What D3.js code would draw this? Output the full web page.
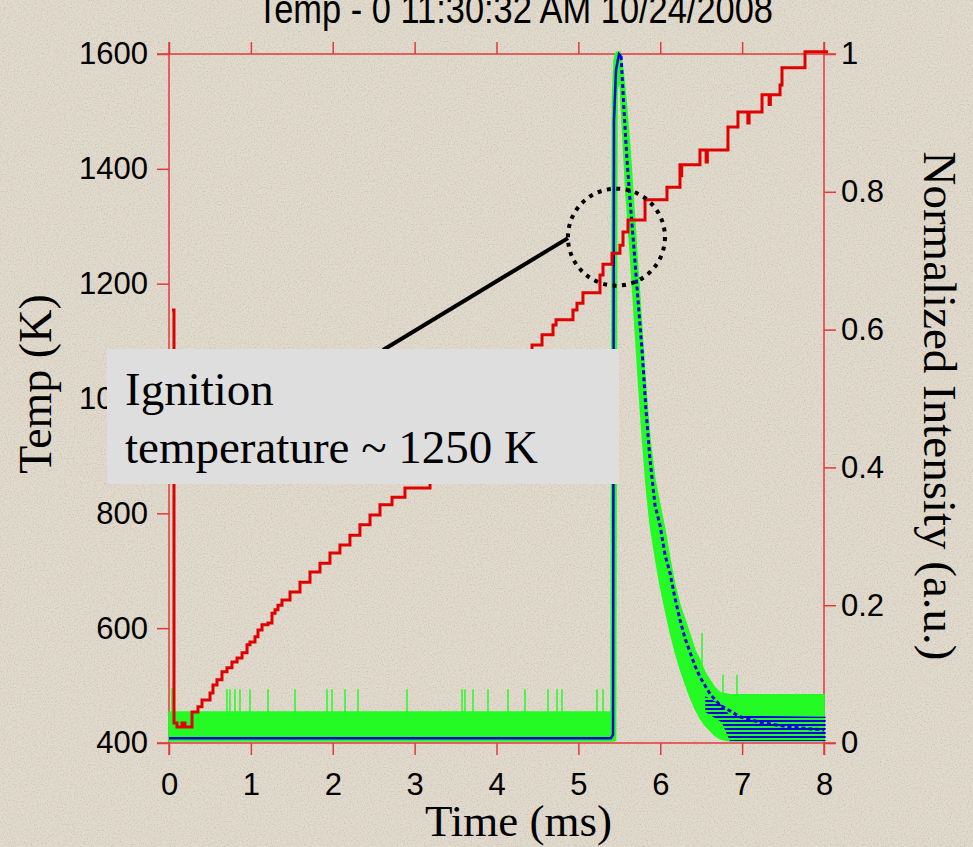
<!DOCTYPE html>
<html>
<head>
<meta charset="utf-8">
<script src="https://cdn.jsdelivr.net/npm/d3@7/dist/d3.min.js"></script>
<style>
	html, body { margin: 0; padding: 0; background: #e2dbcd; }
	svg { display: block; }
	.tick text { font-family: "Liberation Sans", Arial, sans-serif; font-size: 31px; fill: #000; }
	.tick line { stroke: #e23a3a; stroke-width: 1.5; }
	.serif { font-family: "Liberation Serif", "Times New Roman", serif; fill: #000; }
</style>
</head>
<body>
<svg id="chart" width="973" height="847"></svg>
<script>
'use strict';

// ---- data ----
var timeTicks = [0, 1, 2, 3, 4, 5, 6, 7, 8];
var tempTicks = [400, 600, 800, 1000, 1200, 1400, 1600];
var intensityTicks = [0, 0.2, 0.4, 0.6, 0.8, 1];

// thermocouple temperature [time ms, K], stepped
var tempSeries = [
	[0.037, 1154], [0.061, 435], [0.098, 428], [0.159, 435], [0.195, 428],
	[0.281, 454], [0.354, 463], [0.403, 475], [0.501, 487], [0.537, 501],
	[0.586, 510], [0.647, 524], [0.708, 531], [0.769, 541], [0.831, 548],
	[0.892, 557], [0.953, 571], [0.989, 576], [1.050, 585], [1.087, 597],
	[1.136, 606], [1.209, 609], [1.258, 626], [1.295, 632], [1.331, 640],
	[1.380, 649], [1.478, 663], [1.600, 680], [1.722, 698], [1.844, 713],
	[1.966, 731], [2.088, 745], [2.210, 762], [2.332, 780], [2.455, 797],
	[2.577, 815], [2.724, 828], [2.882, 844], [3.188, 893], [3.554, 954],
	[3.921, 1015], [4.226, 1067], [4.434, 1093], [4.556, 1111], [4.690, 1128],
	[4.727, 1137], [4.934, 1154], [4.983, 1166], [5.056, 1184], [5.264, 1215],
	[5.301, 1234], [5.411, 1253], [5.508, 1267], [5.545, 1290], [5.606, 1311],
	[5.814, 1346], [6.082, 1368], [6.241, 1407], [6.250, 1388], [6.262, 1407],
	[6.485, 1433], [6.560, 1412], [6.575, 1433], [6.827, 1473], [6.949, 1499],
	[7.070, 1480], [7.085, 1499], [7.243, 1529], [7.330, 1512], [7.345, 1529],
	[7.463, 1546], [7.487, 1576], [7.768, 1604], [8.049, 1604]
];

// smoothed emission intensity [time ms, a.u.]
var blueSeries = [
	[0, 0.007], [5.398, 0.007], [5.423, 0.012], [5.435, 0.904], [5.460, 0.977],
	[5.496, 1.0], [5.521, 0.997], [5.557, 0.919], [5.594, 0.846], [5.631, 0.788],
	[5.680, 0.716], [5.728, 0.643], [5.777, 0.571], [5.826, 0.483], [5.875, 0.411],
	[5.936, 0.345], [5.997, 0.316], [6.058, 0.273], [6.119, 0.247], [6.180, 0.210],
	[6.241, 0.179], [6.302, 0.152], [6.363, 0.132], [6.424, 0.112], [6.485, 0.096],
	[6.608, 0.071], [6.730, 0.055], [6.974, 0.038], [7.218, 0.030], [7.585, 0.023],
	[8.0, 0.019]
];

// spread of the repeated blue traces in the tail [time ms, low, high]
var blueTail = [
	[6.55, 0.045, 0.068], [6.75, 0.030, 0.055], [6.85, 0.003, 0.040], [8.02, 0.003, 0.038]
];

// raw (noisy) intensity envelope [time ms, low, high]
var greenBand = [
	[0, 0.003, 0.045], [5.398, 0.003, 0.045], [5.416, 0.003, 0.933], [5.435, 0.003, 0.991],
	[5.454, 0.004, 1.0], [5.472, 0.948, 1.003], [5.508, 0.962, 1.003], [5.545, 0.875, 0.977],
	[5.582, 0.795, 0.933], [5.631, 0.715, 0.861], [5.680, 0.625, 0.774], [5.728, 0.535, 0.686],
	[5.777, 0.450, 0.599], [5.826, 0.375, 0.512], [5.875, 0.318, 0.440], [5.936, 0.272, 0.382],
	[5.997, 0.230, 0.345], [6.058, 0.195, 0.309], [6.119, 0.162, 0.266], [6.180, 0.133, 0.229],
	[6.241, 0.108, 0.200], [6.302, 0.087, 0.179], [6.363, 0.067, 0.157], [6.424, 0.050, 0.135],
	[6.485, 0.036, 0.120], [6.546, 0.026, 0.103], [6.608, 0.018, 0.091], [6.669, 0.011, 0.080],
	[6.730, 0.006, 0.073], [6.852, 0.003, 0.070], [8.0, 0.003, 0.070]
];

// tall noise spikes of the raw intensity [time ms, peak a.u.]
var greenSpikes = [
	[0.037, 0.080], [0.708, 0.078], [0.745, 0.078], [0.806, 0.078], [0.867, 0.078],
	[0.989, 0.078], [1.209, 0.078], [1.539, 0.078], [1.930, 0.078], [1.991, 0.078],
	[2.150, 0.078], [2.308, 0.078], [2.907, 0.078], [3.579, 0.078], [3.615, 0.078],
	[3.713, 0.078], [3.896, 0.078], [4.140, 0.078], [4.348, 0.078], [4.629, 0.078],
	[4.739, 0.078], [4.800, 0.078], [5.227, 0.078], [5.301, 0.078],
	[6.510, 0.160], [6.766, 0.099], [6.937, 0.099]
];

var titleText = 'Temp - 0 11:30:32 AM 10/24/2008';
var noteLines = ['Ignition', 'temperature ~ 1250 K'];
var noteCenter = [5.465, 1281];   // ms, K


var svg = d3.select('#chart'),
	frame = {left: 169, right: 824, top: 54, bottom: 743},
	ext = 12,
	axisColor = '#e23a3a';

var xScale = d3.scaleLinear().domain([0, 8]).range([frame.left, frame.right]);
var yTemp = d3.scaleLinear().domain([400, 1600]).range([frame.bottom, frame.top]);
var yInt = d3.scaleLinear().domain([0, 1]).range([frame.bottom, frame.top]);

// paper-like background
var defs = svg.append('defs');
var paper = defs.append('filter').attr('id', 'paper').attr('x', 0).attr('y', 0).attr('width', '100%').attr('height', '100%');
paper.append('feTurbulence').attr('type', 'fractalNoise').attr('baseFrequency', 0.7).attr('numOctaves', 2).attr('seed', 3);
paper.append('feColorMatrix').attr('type', 'matrix')
	.attr('values', '0 0 0 0 0.45  0 0 0 0 0.42  0 0 0 0 0.38  0 0 0 -2.2 1.25');

defs.append('pattern')
	.attr('id', 'stripes')
	.attr('patternUnits', 'userSpaceOnUse')
	.attr('width', 8).attr('height', 4)
	.append('rect').attr('width', 8).attr('height', 2).attr('fill', '#0000dd');

svg.append('rect').attr('width', 973).attr('height', 847).attr('fill', '#e2dbcd');
svg.append('rect').attr('width', 973).attr('height', 847).attr('filter', 'url(#paper)').attr('opacity', 0.5);

// title (runs off the top edge in the original)
svg.append('text')
	.attr('x', 515).attr('y', 23)
	.attr('text-anchor', 'middle')
	.attr('textLength', 516)
	.attr('lengthAdjust', 'spacingAndGlyphs')
	.style('font-family', '"Liberation Sans", Arial, sans-serif')
	.style('font-size', '40px')
	.text(titleText);

// ---- axes ----
var g = svg.append('g');

g.append('g')
	.attr('transform', 'translate(' + frame.left + ',0)')
	.call(d3.axisLeft(yTemp).tickValues(tempTicks).tickFormat(d3.format('d')).tickSize(ext).tickPadding(9).tickSizeOuter(0))
	.call(function(s) { s.select('.domain').remove(); });

g.append('g')
	.attr('transform', 'translate(' + frame.right + ',0)')
	.call(d3.axisRight(yInt).tickValues(intensityTicks).tickFormat(d3.format('~g')).tickSize(ext).tickPadding(5).tickSizeOuter(0))
	.call(function(s) { s.select('.domain').remove(); });

g.append('g')
	.attr('transform', 'translate(0,' + frame.bottom + ')')
	.call(d3.axisBottom(xScale).tickValues(timeTicks).tickFormat(d3.format('d')).tickSize(ext).tickPadding(18).tickSizeOuter(0))
	.call(function(s) { s.select('.domain').remove(); });

g.append('g')
	.attr('transform', 'translate(0,' + frame.top + ')')
	.call(d3.axisTop(xScale).tickValues(timeTicks).tickFormat('').tickSize(ext).tickSizeOuter(0))
	.call(function(s) { s.select('.domain').remove(); });

// frame lines run a little past the corners
var frameLines = [
	[frame.left, frame.top - ext, frame.left, frame.bottom + ext],
	[frame.right, frame.top - ext, frame.right, frame.bottom + ext],
	[frame.left - ext, frame.top, frame.right + ext, frame.top],
	[frame.left - ext, frame.bottom, frame.right + ext, frame.bottom]
];
g.selectAll('line.frame')
	.data(frameLines)
	.enter()
	.append('line')
	.attr('class', 'frame')
	.attr('x1', function(d) { return d[0]; })
	.attr('y1', function(d) { return d[1]; })
	.attr('x2', function(d) { return d[2]; })
	.attr('y2', function(d) { return d[3]; })
	.attr('stroke', axisColor)
	.attr('stroke-width', 1.5);

// axis titles
svg.append('text')
	.attr('class', 'serif')
	.attr('x', xScale(4) + 22).attr('y', 836)
	.attr('text-anchor', 'middle')
	.style('font-size', '45px')
	.text('Time (ms)');

svg.append('text')
	.attr('class', 'serif')
	.attr('transform', 'translate(51,' + 384 + ') rotate(-90)')
	.attr('text-anchor', 'middle')
	.style('font-size', '46px')
	.text('Temp (K)');

svg.append('text')
	.attr('class', 'serif')
	.attr('transform', 'translate(924,' + 406 + ') rotate(90)')
	.attr('text-anchor', 'middle')
	.style('font-size', '47px')
	.text('Normalized Intensity (a.u.)');

// ---- series ----
var plot = svg.append('g');

var bandArea = d3.area()
	.x(function(d) { return xScale(d[0]); })
	.y0(function(d) { return yInt(d[1]); })
	.y1(function(d) { return yInt(d[2]); });

plot.append('path')
	.datum(greenBand)
	.attr('d', bandArea)
	.attr('fill', '#24fb24')
	.attr('stroke', '#24fb24')
	.attr('stroke-width', 1.5);

plot.append('g')
	.selectAll('line')
	.data(greenSpikes)
	.enter()
	.append('line')
	.attr('x1', function(d) { return xScale(d[0]); })
	.attr('x2', function(d) { return xScale(d[0]); })
	.attr('y1', yInt(0.045))
	.attr('y2', function(d) { return yInt(d[1]); })
	.attr('stroke', '#24fb24')
	.attr('stroke-width', 1.5);

plot.append('path')
	.datum(blueTail)
	.attr('d', bandArea)
	.attr('fill', 'url(#stripes)');

var blueLine = d3.line()
	.x(function(d) { return xScale(d[0]); })
	.y(function(d) { return yInt(d[1]); });

// flat part and rise solid, decay drawn broken like the overlapping dashes
plot.append('path')
	.datum(blueSeries.slice(0, 7))
	.attr('d', blueLine)
	.attr('fill', 'none')
	.attr('stroke', '#0000dd')
	.attr('stroke-width', 2.5);

plot.append('path')
	.datum(blueSeries.slice(6))
	.attr('d', blueLine)
	.attr('fill', 'none')
	.attr('stroke', '#0000dd')
	.attr('stroke-width', 3)
	.attr('stroke-dasharray', '4 3');

var tempLine = d3.line()
	.curve(d3.curveStepAfter)
	.x(function(d) { return xScale(d[0]); })
	.y(function(d) { return yTemp(d[1]); });

plot.append('path')
	.datum(tempSeries)
	.attr('d', tempLine)
	.attr('fill', 'none')
	.attr('stroke', '#e00000')
	.attr('stroke-width', 3);

// ---- annotation ----
var cx = xScale(noteCenter[0]),
	cy = yTemp(noteCenter[1]);

svg.append('circle')
	.attr('cx', cx).attr('cy', cy).attr('r', 48.5)
	.attr('fill', 'none')
	.attr('stroke', '#000')
	.attr('stroke-width', 4)
	.attr('stroke-dasharray', '4 5.5');

svg.append('line')
	.attr('x1', 383).attr('y1', 350)
	.attr('x2', cx - 48.5).attr('y2', cy + 1)
	.attr('stroke', '#000')
	.attr('stroke-width', 4);

svg.append('rect')
	.attr('x', 107).attr('y', 349)
	.attr('width', 512).attr('height', 135)
	.attr('fill', '#dedede');

svg.append('text')
	.attr('class', 'serif')
	.style('font-size', '47px')
	.selectAll('tspan')
	.data(noteLines)
	.enter()
	.append('tspan')
	.attr('x', 125)
	.attr('y', function(d, i) { return 405 + i * 58; })
	.text(function(d) { return d; });
</script>
</body>
</html>
